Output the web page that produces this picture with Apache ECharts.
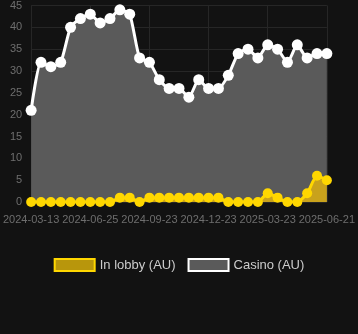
<!DOCTYPE html>
<html><head><meta charset="utf-8">
<script src="https://cdn.jsdelivr.net/npm/echarts@6/dist/echarts.min.js"></script>
<style>html,body{margin:0;padding:0;background:#121212;}#c{width:358px;height:334px;}</style>
</head><body><div id="c"></div>
<script>
const categories = ["2024-03-13","2024-04-11","2024-04-26","2024-05-11","2024-05-26","2024-06-10","2024-06-25",
"2024-07-10","2024-07-25","2024-08-09","2024-08-24","2024-09-08","2024-09-23",
"2024-10-08","2024-10-23","2024-11-07","2024-11-22","2024-12-08","2024-12-23",
"2025-01-07","2025-01-22","2025-02-06","2025-02-21","2025-03-08","2025-03-23",
"2025-04-07","2025-04-22","2025-05-07","2025-05-22","2025-06-06","2025-06-21"];
const casino = [21,32,31,32,40,42,43,41,42,44,43,33,32,28,26,26,24,28,26,26,29,34,35,33,36,35,32,36,33,34,34];
const inLobby = [0,0,0,0,0,0,0,0,0,1,1,0,1,1,1,1,1,1,1,1,0,0,0,0,2,1,0,0,2,6,5];
const yTicks = [0,5,10,15,20,25,30,35,40,45];

const chart = echarts.init(document.getElementById('c'));
chart.setOption({
  backgroundColor:'#121212',
  animation:false,
  grid:{left:31,right:29,top:4,bottom:132},
  legend:{
    bottom:57,left:'center',itemWidth:40,itemHeight:12,itemGap:12,
    textStyle:{color:'#cccccc',fontSize:13,fontFamily:'Liberation Sans, Arial, sans-serif'},
    data:[{name:'In lobby (AU)',icon:'rect',itemStyle:{color:'#b8960c',borderColor:'#ffd700',borderWidth:2}},
          {name:'Casino (AU)',icon:'rect',itemStyle:{color:'#5a5a5a',borderColor:'#ffffff',borderWidth:2}}]
  },
  xAxis:{type:'category',data:categories,boundaryGap:false,
    axisLine:{show:false},axisTick:{show:false},
    axisLabel:{color:'#6e6e6e',fontSize:11,interval:5,margin:12,fontFamily:'Liberation Sans, Arial, sans-serif'},
    splitLine:{show:true,interval:5,lineStyle:{color:'#262626',width:1}}},
  yAxis:{type:'value',min:yTicks[0],max:yTicks[yTicks.length-1],interval:5,
    axisLine:{show:false},axisTick:{show:false},
    axisLabel:{color:'#6e6e6e',fontSize:11,margin:9,fontFamily:'Liberation Sans, Arial, sans-serif'},
    splitLine:{lineStyle:{color:'#262626',width:1}}},
  series:[
    {name:'In lobby (AU)',type:'line',data:inLobby,z:4,symbol:'circle',symbolSize:10,showAllSymbol:true,smooth:0.2,
      lineStyle:{color:'#ffd700',width:3},itemStyle:{color:'#ffd700'},
      areaStyle:{color:'#c9a21c',opacity:1}},
    {name:'Casino (AU)',type:'line',data:casino,z:3,symbol:'circle',symbolSize:11,showAllSymbol:true,smooth:0.2,
      lineStyle:{color:'#ffffff',width:3},itemStyle:{color:'#ffffff'},
      areaStyle:{color:'#5a5a5a',opacity:1}}
  ]
});
</script></body></html>
